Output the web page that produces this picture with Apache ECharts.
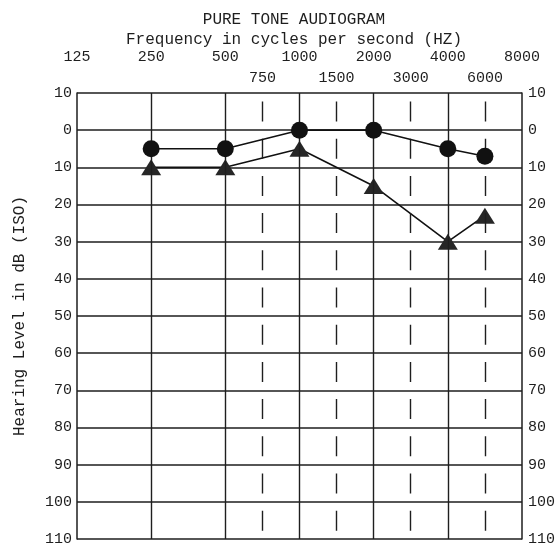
<!DOCTYPE html>
<html>
<head>
<meta charset="utf-8">
<script src="https://cdn.jsdelivr.net/npm/echarts@6/dist/echarts.min.js"></script>
<style>
html,body{margin:0;padding:0;background:#fff;}
#chart{width:558px;height:548px;}
</style>
</head>
<body>
<div id="chart"></div>
<script>
// Half-octave slots along the frequency axis (Hz)
const slots = ['125','177','250','354','500','750','1000','1500','2000','3000','4000','6000','8000'];
// Tick labels (two rows on top)
const octaveRowLabels = ['125','','250','','500','','1000','','2000','','4000','','8000'];
const halfRowLabels   = ['','','','','','750','','1500','','3000','','6000',''];
const solidLineFreqs  = ['250','500','1000','2000','4000'];
const dashedLineFreqs = ['750','1500','3000','6000'];
// Hearing level tick labels (-10 .. 110)
const dbTickValues = [-10,0,10,20,30,40,50,60,70,80,90,100,110];
const dbTickLabels = ['10','0','10','20','30','40','50','60','70','80','90','100','110'];
// Measured thresholds
const testFreqs = ['250','500','1000','2000','4000','6000'];
const circleValues   = [5, 5, 0, 0, 5, 7];
const triangleValues = [10, 10, 5, 15, 30, 23];

const FONT = "'Liberation Mono','DejaVu Sans Mono',monospace";
const INK = '#1e1e1e';

const toPairs = vals => testFreqs.map((f, i) => [slots.indexOf(f), vals[i]]);

const chart = echarts.init(document.getElementById('chart'), null, {renderer: 'canvas'});

const vLines = solidLineFreqs.map(f => ({xAxis: slots.indexOf(f), lineStyle: {type: 'solid', width: 1.4, color: INK}}))
  .concat(dashedLineFreqs.map(f => ({xAxis: slots.indexOf(f), lineStyle: {type: [20, 17.2], dashOffset: 28.7, width: 1.4, color: INK}})));

const yAxisCommon = {
  type: 'value', inverse: true, min: -10, max: 110, interval: 10,
  axisLine: {show: true, lineStyle: {color: INK, width: 1.5}},
  axisTick: {show: false},
  splitLine: {show: true, lineStyle: {color: INK, width: 1.5}},
  axisLabel: {
    fontFamily: FONT, fontSize: 15, color: INK, margin: 5,
    formatter: v => dbTickLabels[dbTickValues.indexOf(v)]
  }
};

chart.setOption({
  backgroundColor: '#ffffff',
  animation: false,
  title: {
    text: 'PURE TONE AUDIOGRAM',
    subtext: 'Frequency in cycles per second (HZ)',
    left: 289, top: 7, textAlign: 'center', itemGap: 4,
    textStyle: {fontFamily: FONT, fontSize: 16, fontWeight: 'normal', color: INK},
    subtextStyle: {fontFamily: FONT, fontSize: 16, color: INK}
  },
  grid: {left: 77, right: 34, top: 93, bottom: 9, containLabel: false},
  xAxis: {
    type: 'category', data: slots, boundaryGap: false, position: 'top',
    axisLine: {show: false}, axisTick: {show: false}, splitLine: {show: false},
    axisLabel: {
      interval: 0, margin: 4, fontFamily: FONT, fontSize: 15, color: INK, lineHeight: 21,
      formatter: (v, i) => (octaveRowLabels[i] || ' ') + '\n' + (halfRowLabels[i] || ' ')
    }
  },
  yAxis: [
    Object.assign({}, yAxisCommon, {
      position: 'left',
      name: 'Hearing Level in dB (ISO)', nameLocation: 'middle', nameGap: 49,
      nameTextStyle: {fontFamily: FONT, fontSize: 16, color: INK}
    }),
    Object.assign({}, yAxisCommon, {position: 'right', splitLine: {show: false},
      axisLabel: Object.assign({}, yAxisCommon.axisLabel, {margin: 6})})
  ],
  series: [
    {
      type: 'line', data: toPairs(circleValues),
      symbol: 'circle', symbolSize: 17,
      itemStyle: {color: '#111'},
      lineStyle: {color: '#111', width: 1.6},
      z: 5,
      markLine: {
        silent: true, symbol: ['none', 'none'], label: {show: false},
        data: vLines
      }
    },
    {
      type: 'line', data: toPairs(triangleValues),
      symbol: 'triangle', symbolSize: [20, 16],
      itemStyle: {color: '#262626'},
      lineStyle: {color: '#111', width: 1.6},
      z: 4
    }
  ]
});
</script>
</body>
</html>
